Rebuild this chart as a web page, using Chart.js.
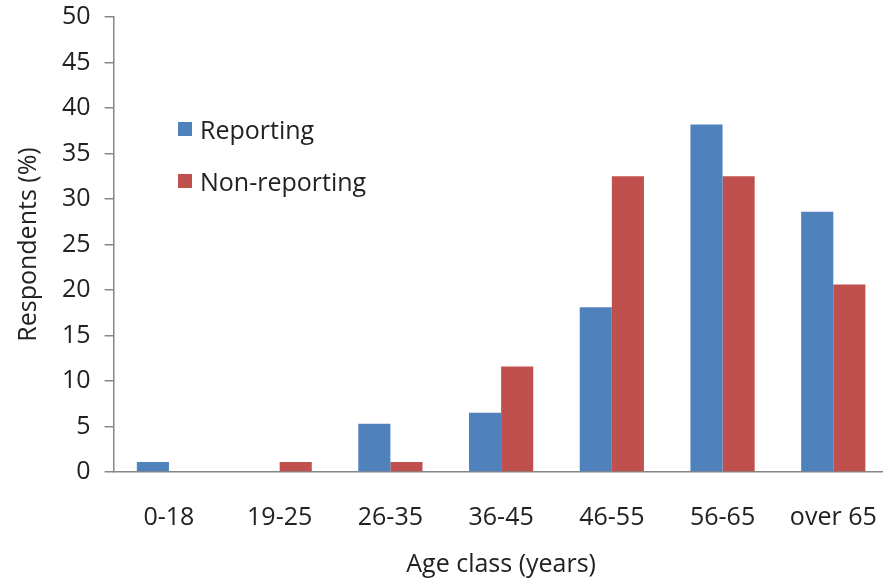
<!DOCTYPE html>
<html>
<head>
<meta charset="utf-8">
<script src="https://cdn.jsdelivr.net/npm/chart.js@4"></script>
<style>
    html, body { margin: 0; padding: 0; background: #fff; overflow: hidden; }
    #wrap { position: relative; width: 900px; height: 580px; }
    #legend { position: absolute; left: 178px; top: 114px; font-family: "Open Sans", sans-serif; font-size: 25px; color: #222; }
    #legend div { display: flex; align-items: center; height: 30px; margin-bottom: 22px; }
    #legend span.box { display: inline-block; width: 14px; height: 14px; margin-right: 8px; }
</style>
</head>
<body>
<div id="wrap">
    <canvas id="chart"></canvas>
    <div id="legend"></div>
</div>
<script>
const ageClasses = ["0-18", "19-25", "26-35", "36-45", "46-55", "56-65", "over 65"];
const reporting = [1.1, 0, 5.3, 6.5, 18.1, 38.2, 28.6];
const nonReporting = [0, 1.1, 1.1, 11.6, 32.5, 32.5, 20.6];

const blue = "#4F81BD";
const red = "#C0504D";
const axisGrey = "#868686";
const fontFamily = "'Open Sans', sans-serif";

const barData = {
    labels: ageClasses,
    datasets: [
        {
            label: "Reporting",
            data: reporting,
            backgroundColor: blue,
            barPercentage: 1,
            categoryPercentage: 0.58
        },
        {
            label: "Non-reporting",
            data: nonReporting,
            backgroundColor: red,
            barPercentage: 1,
            categoryPercentage: 0.58
        }
    ]
};

const canvas = document.querySelector("#chart");
const chart = new Chart(canvas, {
    type: "bar",
    data: barData,
    options: {
        responsive: true,
        maintainAspectRatio: false,
        animation: false,
        layout: {
            padding: { top: 17, right: 4, left: 14, bottom: 0 }
        },
        scales: {
            x: {
                grid: { display: false },
                border: { color: axisGrey, width: 1.5 },
                ticks: {
                    color: "#222",
                    font: { family: fontFamily, size: 25 },
                    padding: 23,
                    maxRotation: 0
                },
                title: {
                    display: true,
                    text: "Age class (years)",
                    color: "#222",
                    font: { family: fontFamily, size: 25 },
                    padding: { top: -6, bottom: 0 }
                }
            },
            y: {
                min: 0,
                max: 50,
                afterFit: scale => { scale.paddingTop = 0; },
                grid: {
                    drawOnChartArea: false,
                    drawTicks: true,
                    tickLength: 9,
                    color: axisGrey,
                    lineWidth: 1.5
                },
                border: { color: axisGrey, width: 1.5 },
                ticks: {
                    stepSize: 5,
                    color: "#222",
                    font: { family: fontFamily, size: 25 },
                    padding: 14
                },
                title: {
                    display: true,
                    text: "Respondents (%)",
                    color: "#222",
                    font: { family: fontFamily, size: 25 },
                    padding: { top: 0, bottom: 4 }
                }
            }
        },
        plugins: {
            legend: { display: false },
            tooltip: { enabled: false }
        }
    }
});

// legend drawn as html, from the datasets
const legendBox = document.querySelector("#legend");
barData.datasets.forEach(ds => {
    const row = document.createElement("div");
    const box = document.createElement("span");
    box.className = "box";
    box.style.background = ds.backgroundColor;
    row.appendChild(box);
    row.appendChild(document.createTextNode(ds.label));
    legendBox.appendChild(row);
});
</script>
</body>
</html>
